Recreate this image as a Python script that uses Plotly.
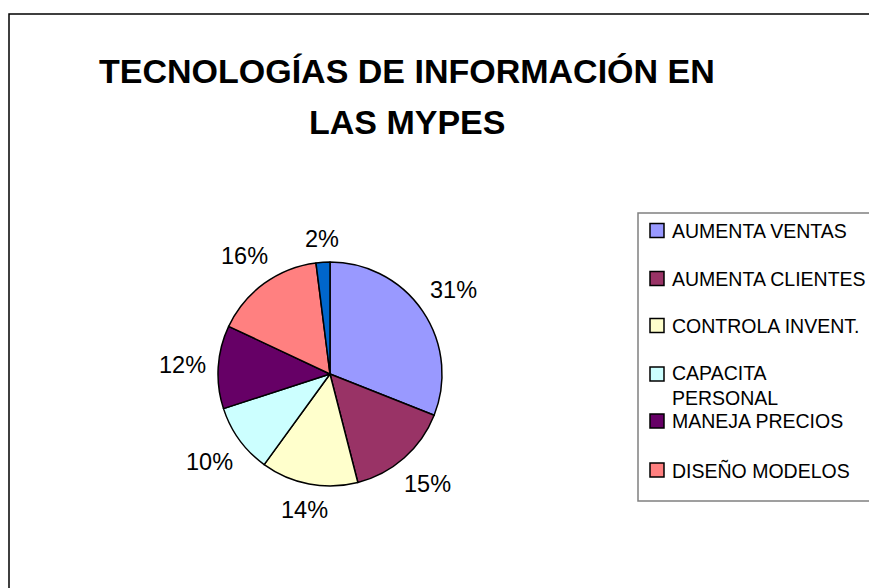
import math
import plotly.graph_objects as go

# ---- data ----
categories = ["AUMENTA VENTAS", "AUMENTA CLIENTES", "CONTROLA INVENT.",
              "CAPACITA PERSONAL", "MANEJA PRECIOS", "DISEÑO MODELOS", "OTROS"]
values = [31, 15, 14, 10, 12, 16, 2]
colors = ["#9999FF", "#993366", "#FFFFCC", "#CCFFFF", "#660066", "#FF8080", "#0066CC"]
legend_labels = ["AUMENTA VENTAS", "AUMENTA CLIENTES", "CONTROLA INVENT.",
                 "CAPACITA<br>PERSONAL", "MANEJA PRECIOS", "DISEÑO MODELOS"]
title_lines = ["TECNOLOGÍAS DE INFORMACIÓN EN", "LAS MYPES"]

W, H = 869, 588
FONT = "Liberation Sans, Arial, sans-serif"

def px(x):
    return x / W

def py(y):
    return 1 - y / H

cx, cy, r = 330, 374, 112

fig = go.Figure()
fig.add_trace(go.Pie(
    labels=categories, values=values, sort=False, direction="clockwise", rotation=0,
    marker=dict(colors=colors, line=dict(color="black", width=1.5)),
    textinfo="none",
    domain=dict(x=[px(cx - r), px(cx + r)], y=[py(cy + r), py(cy - r)]),
    showlegend=False, hoverinfo="label+percent",
))

shapes = []
annotations = []
# outer frame (extends off the canvas on right and bottom)
shapes.append(dict(type="rect", xref="paper", yref="paper",
                   x0=px(9), x1=px(W + 20), y0=py(H + 20), y1=py(14),
                   line=dict(color="black", width=1.5)))
# legend box
shapes.append(dict(type="rect", xref="paper", yref="paper",
                   x0=px(638), x1=px(W + 20), y0=py(501), y1=py(213),
                   line=dict(color="#808080", width=1.5), fillcolor="white", layer="below"))

item_y = [230.5, 278.5, 325.5, 374, 421, 470]
for i, lab in enumerate(legend_labels):
    yc = item_y[i]
    shapes.append(dict(type="rect", xref="paper", yref="paper",
                       x0=px(650), x1=px(664), y0=py(yc + 7), y1=py(yc - 7),
                       fillcolor=colors[i], line=dict(color="black", width=1.5)))
    if "<br>" in lab:
        annotations.append(dict(text=lab, x=px(670), y=py(yc - 14), xref="paper", yref="paper",
                                xanchor="left", yanchor="top", showarrow=False, align="left",
                                font=dict(family=FONT, size=19.5, color="black")))
    else:
        annotations.append(dict(text=lab, x=px(670), y=py(yc), xref="paper", yref="paper",
                                xanchor="left", yanchor="middle", showarrow=False, align="left",
                                font=dict(family=FONT, size=19.5, color="black")))

# percentage labels placed outside each slice, derived from the values
total = sum(values)
lab_size = 23.5
cum = 0
for v in values:
    mid = (cum + v / 2) / total * 2 * math.pi
    cum += v
    txt = "%d%%" % round(v / total * 100)
    ndig = len(txt) - 1
    hw = (ndig * 0.556 + 0.889) * lab_size / 2
    hh = 10
    s, c = math.sin(mid), math.cos(mid)
    d = 124 + hw * abs(s) + hh * abs(c)
    lx, ly = cx + d * s, cy - d * c
    annotations.append(dict(text=txt, x=px(lx), y=py(ly), xref="paper", yref="paper",
                            xanchor="center", yanchor="middle", showarrow=False,
                            font=dict(family=FONT, size=lab_size, color="black")))

title_y = [71, 122]
for t, ty in zip(title_lines, title_y):
    annotations.append(dict(text="<b>%s</b>" % t, x=px(407), y=py(ty), xref="paper", yref="paper",
                            xanchor="center", yanchor="middle", showarrow=False,
                            font=dict(family=FONT, size=34, color="black")))

fig.update_layout(
    width=W, height=H, margin=dict(l=0, r=0, t=0, b=0),
    paper_bgcolor="white", plot_bgcolor="white",
    shapes=shapes, annotations=annotations,
)
fig.write_html("out.html", config={"displayModeBar": False},
               post_script="document.body.style.margin='0';")
